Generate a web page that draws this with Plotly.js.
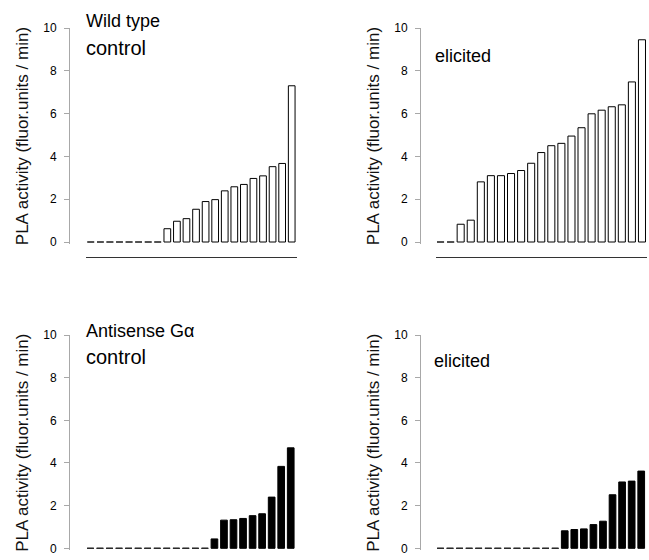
<!DOCTYPE html>
<html>
<head>
<meta charset="utf-8">
<script src="https://cdn.plot.ly/plotly-3.0.1.min.js"></script>
<style>html,body{margin:0;padding:0;background:#fff;}#chart{width:649px;height:560px;}</style>
</head>
<body>
<div id="chart"></div>
<script>
// ---- data ----
const wtControl  = [0,0,0,0,0,0,0,0,0.62,0.97,1.09,1.53,1.89,1.98,2.39,2.58,2.69,2.97,3.09,3.52,3.67,7.30];
const wtElicited = [0,0,0.83,1.02,2.81,3.10,3.10,3.20,3.34,3.68,4.18,4.50,4.61,4.95,5.34,5.99,6.16,6.32,6.41,7.48,9.45];
const asControl  = [0,0,0,0,0,0,0,0,0,0,0,0,0,0.44,1.32,1.34,1.40,1.53,1.62,2.40,3.84,4.71];
const asElicited = [0,0,0,0,0,0,0,0,0,0,0,0,0,0.82,0.88,0.91,1.11,1.27,2.51,3.11,3.15,3.62];
const yTicks = [0,2,4,6,8,10];
const yTitle = 'PLA activity (fluor.units / min)';
const panelLabels = [['Wild type','control'],['elicited'],['Antisense G\u03B1','control'],['elicited']];

// ---- layout helpers ----
const W = 649, H = 560;
const px = v => v / W;
const py = v => 1 - v / H;
const FONT = 'Liberation Sans, Arial, Helvetica, sans-serif';

const panels = [
  {data: wtControl,  xd: [86, 296.5],  zero: 242,   ten: 28,  axisX: 69,  xline: 256.5, fill: '#ffffff', dash: '#666'},
  {data: wtElicited, xd: [435.5, 647], zero: 242,   ten: 28,  axisX: 420, xline: 256.5, fill: '#ffffff', dash: '#666'},
  {data: asControl,  xd: [85.7, 295.5],zero: 548.3, ten: 335, axisX: 69,  xline: null,  fill: '#000000', dash: '#333'},
  {data: asElicited, xd: [435.7, 646], zero: 548.3, ten: 335, axisX: 420, xline: null,  fill: '#000000', dash: '#333'}
];

const traces = [];
const layout = {
  width: W, height: H,
  margin: {l: 0, r: 0, t: 0, b: 0},
  paper_bgcolor: '#fff', plot_bgcolor: 'rgba(0,0,0,0)',
  showlegend: false,
  bargap: 0.3,
  font: {family: FONT, color: '#000'},
  annotations: []
};
const yMin = -0.1;
const halfW = 0.35;

panels.forEach((p, k) => {
  const n = k + 1;
  const xa = 'xaxis' + (n === 1 ? '' : n);
  const ya = 'yaxis' + (n === 1 ? '' : n);
  const xr = 'x' + (n === 1 ? '' : n);
  const yr = 'y' + (n === 1 ? '' : n);
  const idx = p.data.map((v, i) => i);
  // bars (non-zero values)
  traces.push({
    type: 'bar', x: idx, y: p.data, xaxis: xr, yaxis: yr,
    marker: {color: p.fill, line: {color: '#000', width: 1}},
    hoverinfo: 'x+y'
  });
  // zero values shown as short dashes on the baseline
  const dx = [], dy = [];
  p.data.forEach((v, i) => { if (v === 0) { dx.push(i - halfW, i + halfW, null); dy.push(0, 0, null); } });
  traces.push({
    type: 'scatter', mode: 'lines', x: dx, y: dy, xaxis: xr, yaxis: yr,
    line: {color: p.dash, width: 1}, hoverinfo: 'skip', connectgaps: false
  });
  const unit = (p.zero - p.ten) / 10;
  const bottomPx = p.zero - yMin * unit;
  layout[xa] = {
    domain: [px(p.xd[0]), px(p.xd[1])],
    range: [-0.5, p.data.length - 0.5],
    anchor: p.xline ? 'free' : yr,
    position: p.xline ? py(p.xline) : 0,
    showline: !!p.xline, linecolor: '#333', linewidth: 1,
    showticklabels: false, ticks: '', showgrid: false, zeroline: false, fixedrange: true
  };
  layout[ya] = {
    domain: [py(bottomPx), py(p.ten)],
    range: [yMin, 10],
    anchor: 'free', position: px(p.axisX),
    showline: true, linecolor: '#a8a8a8', linewidth: 1,
    ticks: 'outside', ticklen: 5, tickcolor: '#a8a8a8', tickwidth: 1,
    tickvals: yTicks, ticktext: yTicks.map(String),
    tickfont: {size: 12, family: FONT, color: '#000'},
    ticklabelstandoff: 5,
    showgrid: false, zeroline: false, fixedrange: true,
    title: {text: yTitle, font: {size: 17, family: FONT, color: '#111'}, standoff: 9}
  };
});

// panel captions
const cap = (text, x, y, size) => layout.annotations.push({
  text: text, xref: 'paper', yref: 'paper', x: px(x), y: py(y),
  xanchor: 'left', yanchor: 'middle', showarrow: false,
  font: {size: size, family: FONT, color: '#000'}
});
cap(panelLabels[0][0], 84, 21, 18);
cap(panelLabels[0][1], 84, 48, 20);
cap(panelLabels[1][0], 433, 56, 18);
cap(panelLabels[2][0], 84, 331, 18);
cap(panelLabels[2][1], 84, 357, 20);
cap(panelLabels[3][0], 432, 361, 18);

Plotly.newPlot('chart', traces, layout, {displayModeBar: false, staticPlot: true});
</script>
</body>
</html>
